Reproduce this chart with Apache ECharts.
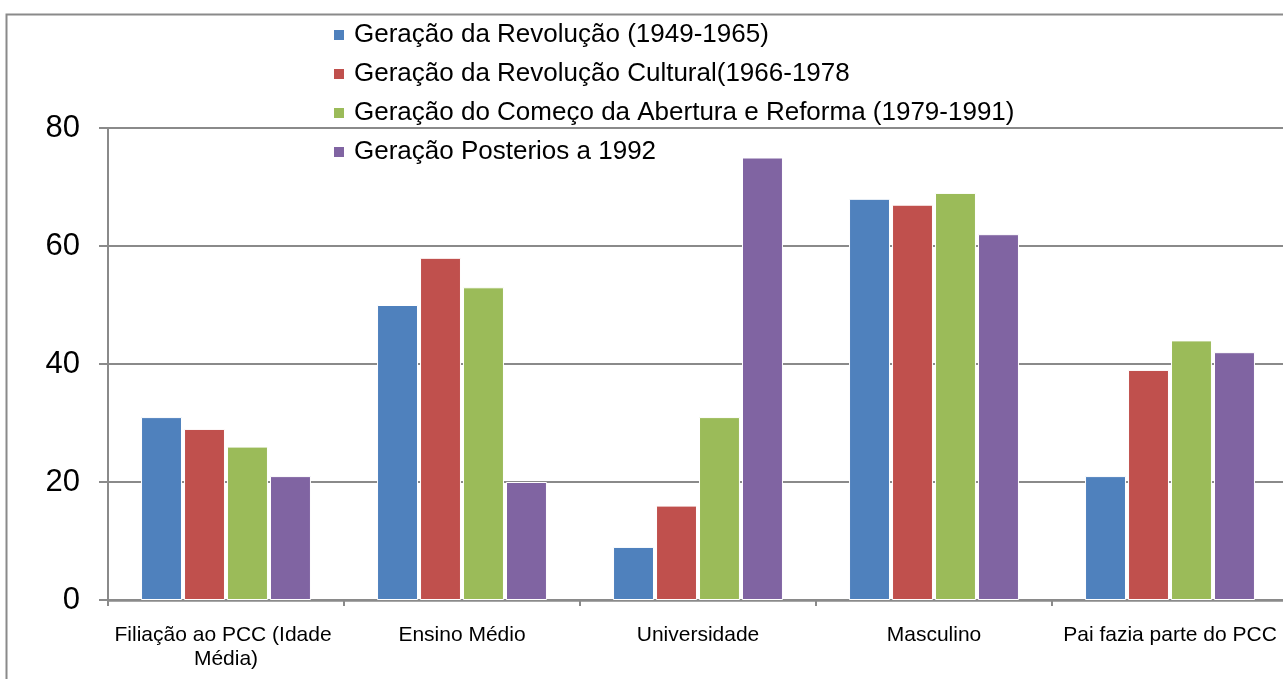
<!DOCTYPE html>
<html>
<head>
<meta charset="utf-8">
<script src="https://cdn.jsdelivr.net/npm/echarts@6/dist/echarts.min.js"></script>
<style>
html,body{margin:0;padding:0;background:#fff;}
#c{width:1283px;height:679px;}
</style>
</head>
<body>
<div id="c"></div>
<script>
const categories = ['Filiação ao PCC (Idade Média)', 'Ensino Médio', 'Universidade', 'Masculino', 'Pai fazia parte do PCC'];
const seriesNames = [
  'Geração da Revolução (1949-1965)',
  'Geração da Revolução Cultural(1966-1978',
  'Geração do Começo da Abertura e Reforma (1979-1991)',
  'Geração Posterios a 1992'
];
const revolucao = [31, 50, 9, 68, 21];
const cultural = [29, 58, 16, 67, 39];
const abertura = [26, 53, 31, 69, 44];
const posterior = [21, 20, 75, 62, 42];
const yTicks = [0, 20, 40, 60, 80];

const colors = ['#4F81BD', '#C0504D', '#9BBB59', '#8064A2'];
const values = [revolucao, cultural, abertura, posterior];
const font = '"Liberation Sans", Arial, sans-serif';

const chart = echarts.init(document.getElementById('c'), null, {renderer: 'canvas'});
chart.setOption({
  animation: false,
  backgroundColor: '#fff',
  color: colors,
  graphic: [{
    type: 'rect',
    left: 4, top: 12,
    shape: {width: 1320, height: 720},
    style: {fill: 'none', stroke: '#8a8a8a', lineWidth: 2},
    silent: true, z: -10
  }],
  legend: {
    orient: 'vertical',
    left: 327,
    top: 17,
    itemWidth: 12,
    itemHeight: 12,
    itemGap: 13,
    icon: 'rect',
    data: seriesNames,
    textStyle: {fontSize: 26, color: '#000', fontFamily: font, padding: [0, 0, 0, 4]}
  },
  grid: {left: 108, right: -5, top: 128, bottom: 79, containLabel: false, outerBoundsMode: 'none'},
  xAxis: {
    type: 'category',
    data: categories,
    axisLine: {lineStyle: {color: '#8a8a8a', width: 2.5}},
    axisTick: {show: true, length: 6, inside: false, lineStyle: {color: '#8a8a8a', width: 2}},
    axisLabel: {
      fontSize: 21, color: '#000', fontFamily: font, margin: 23,
      width: 250, overflow: 'break', lineHeight: 24, interval: 0
    }
  },
  yAxis: {
    type: 'value',
    min: yTicks[0], max: yTicks[yTicks.length - 1], interval: 20,
    axisLine: {show: true, lineStyle: {color: '#8a8a8a', width: 2}},
    axisTick: {show: true, length: 9, lineStyle: {color: '#8a8a8a', width: 2}},
    splitLine: {show: true, lineStyle: {color: '#8a8a8a', width: 2}},
    axisLabel: {fontSize: 31, color: '#000', fontFamily: font, margin: 28}
  },
  series: seriesNames.map((n, i) => ({
    name: n,
    type: 'bar',
    data: values[i],
    barGap: '5%',
    barCategoryGap: '28%',
    itemStyle: {color: colors[i], borderColor: '#fff', borderWidth: 1}
  }))
});
</script>
</body>
</html>
